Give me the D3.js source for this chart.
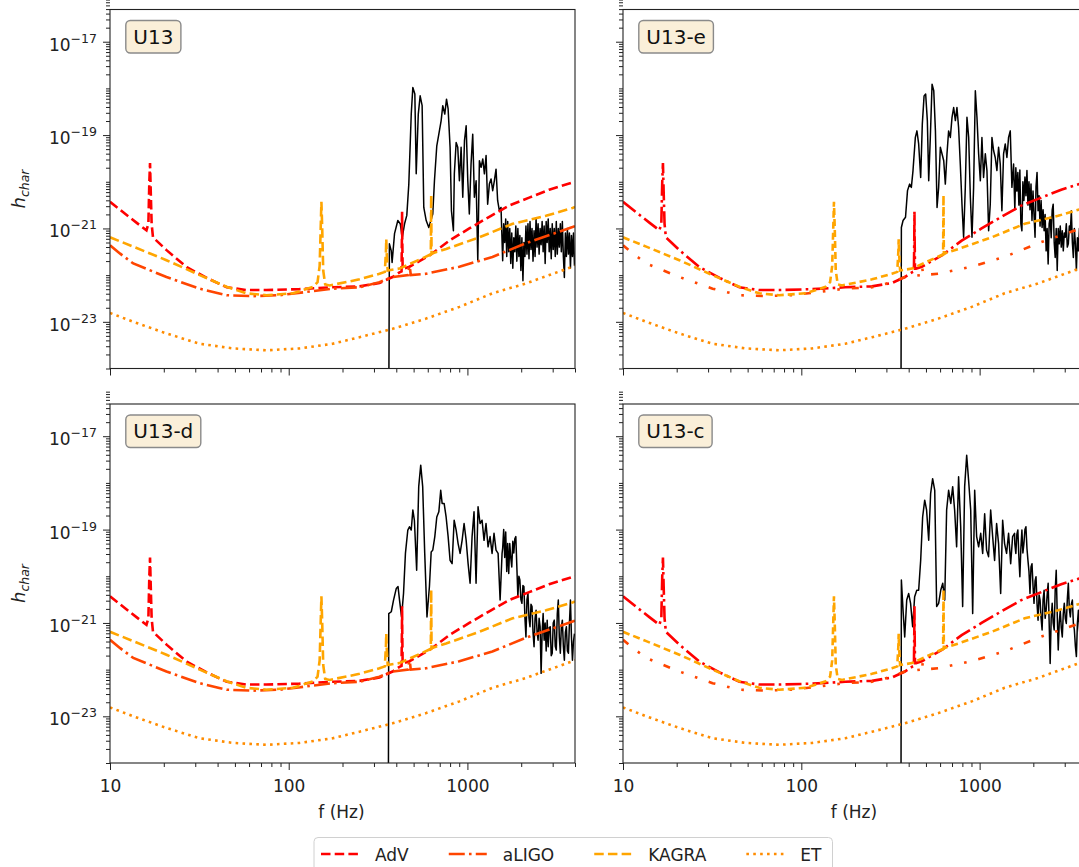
<!DOCTYPE html>
<html>
<head>
<meta charset="utf-8">
<script src="https://cdn.jsdelivr.net/npm/d3@7"></script>
<style>
body { margin: 0; background: #fff; }
svg { display: block; font-family: "DejaVu Sans", sans-serif; }
</style>
</head>
<body>
<div id="chart"></div>
<script>
"use strict";

// detector sensitivity curves: frequency (Hz) and log10(h_char)
var advFreq = [10, 12, 14, 16, 16.4, 16.6, 16.75, 16.9, 17.1, 17.4, 20.8, 26.9, 34.8, 45, 58, 75, 115, 176, 249, 322,
    381, 417, 428, 430, 431, 432, 434, 440, 474, 613, 793, 1025, 1326, 1714, 2217, 2867, 4000];
var advLogH = [-20.43, -20.67, -20.87, -21.04, -20.9, -20.0, -19.6, -20.2, -20.9, -21.19, -21.47, -21.83, -22.06, -22.26, -22.32, -22.32, -22.30, -22.26, -22.24, -22.17,
    -22.04, -21.94, -21.92, -21.2, -20.64, -21.2, -21.86, -21.86, -21.82, -21.58, -21.26, -21.00, -20.75, -20.51, -20.34, -20.17, -20.0];

var aligoFreq = [10, 11.4, 13.5, 20.7, 31.8, 44.9, 63.2, 89, 125.6, 176, 249, 322, 381, 466, 471, 474, 477, 482, 588, 902,
    1380, 2117, 3875, 4000];
var aligoLogH = [-21.36, -21.54, -21.75, -22.04, -22.29, -22.43, -22.45, -22.43, -22.36, -22.29, -22.26, -22.15, -22.04, -22.0, -21.85, -21.81, -21.85, -22.0, -21.97, -21.82,
    -21.61, -21.32, -20.97, -20.95];

var kagraFreq = [10, 13.5, 20.7, 31.8, 44.9, 58.1, 75.1, 105.7, 136.8, 145, 149, 151, 152.4, 154, 156, 160, 169.5, 249, 322, 345,
    350, 351.6, 353, 358, 417, 613, 624, 627, 630, 640, 760, 1167, 1791, 2752, 3875, 4000];
var kagraLogH = [-21.19, -21.39, -21.68, -22.00, -22.25, -22.39, -22.43, -22.39, -22.25, -22.15, -21.8, -21.0, -20.43, -21.0, -21.9, -22.2, -22.22, -22.09, -21.97, -21.93,
    -21.5, -21.23, -21.5, -21.9, -21.86, -21.57, -21.55, -20.29, -21.55, -21.53, -21.44, -21.19, -20.90, -20.73, -20.56, -20.54];

var etFreq = [10, 13.5, 20.7, 31.8, 48.9, 75.1, 115, 176.5, 249, 381, 588, 902, 1380, 2117, 3875, 4000];
var etLogH = [-22.81, -23.0, -23.25, -23.47, -23.57, -23.61, -23.57, -23.47, -23.33, -23.15, -22.93, -22.68, -22.39, -22.18, -21.82, -21.80];

// signal spectra below ~1.56 kHz: [f (Hz), log10(h_char)]
var u13Head = [[363, -25], [366, -21.33], [375, -21.48], [379, -21.73], [391, -21.11], [408, -20.83], [421, -20.90], [432, -21.19], [445, -20.90], [458, -20.72],
    [470, -20.05], [485, -18.55], [495, -17.98], [508, -18.12], [517, -19.83], [531, -18.55], [544, -18.16], [558, -18.37], [570, -20.55], [588, -20.83],
    [608, -20.98], [640, -20.69], [654, -19.98], [674, -19.23], [692, -18.98], [713, -18.69], [728, -18.37], [747, -18.55], [764, -18.23], [780, -18.44],
    [800, -19.26], [814, -20.62], [835, -21.05], [845, -19.83], [865, -19.16], [883, -19.26], [902, -19.98], [922, -19.26], [942, -20.33], [963, -19.12],
    [984, -18.80], [1005, -19.98], [1025, -20.69], [1048, -19.62], [1071, -18.98], [1094, -20.33], [1119, -19.98], [1143, -21.69], [1167, -19.55], [1193, -19.69],
    [1219, -19.51], [1245, -19.83], [1272, -19.44], [1298, -20.48], [1327, -20.05], [1356, -19.94], [1385, -20.19], [1415, -19.98], [1446, -19.73], [1476, -20.40],
    [1509, -20.62], [1542, -20.55]];

var u13eHead = [[362, -25], [364, -20.98], [372, -20.83], [384, -20.76], [394, -20.19], [405, -20.05], [414, -20.12], [423, -19.76], [436, -19.05], [445, -18.91],
    [455, -19.19], [467, -19.91], [477, -18.76], [488, -18.16], [498, -18.12], [509, -18.69], [518, -19.98], [529, -19.05], [541, -17.91], [553, -18.05],
    [565, -18.91], [577, -20.55], [589, -20.12], [602, -19.26], [615, -19.40], [629, -19.55], [642, -20.05], [656, -19.40], [670, -18.91], [685, -19.05],
    [700, -18.62], [715, -18.41], [731, -18.69], [746, -18.41], [762, -18.84], [779, -19.62], [796, -20.48], [813, -21.19], [831, -20.12], [849, -18.62],
    [868, -19.05], [887, -20.33], [906, -21.19], [925, -20.12], [946, -18.05], [966, -18.62], [987, -19.40], [1009, -19.98], [1030, -19.05], [1052, -19.91],
    [1076, -19.40], [1099, -19.76], [1123, -21.05], [1147, -20.48], [1172, -19.05], [1197, -19.33], [1223, -19.48], [1250, -19.76], [1277, -19.26], [1305, -19.62],
    [1333, -20.62], [1362, -19.40], [1392, -19.19], [1422, -19.48], [1453, -19.05], [1485, -18.91], [1517, -20.12], [1550, -19.62]];

var u13dHead = [[361, -25], [363, -20.80], [375, -20.76], [386, -20.51], [400, -20.26], [409, -20.22], [417, -20.51], [428, -20.87], [439, -20.37], [450, -19.51],
    [464, -19.01], [474, -18.94], [485, -19.01], [495, -18.58], [505, -18.80], [520, -19.87], [534, -18.08], [548, -17.62], [562, -18.08], [577, -19.51],
    [594, -20.87], [613, -20.22], [627, -19.48], [640, -19.44], [657, -19.15], [674, -18.73], [692, -18.62], [709, -18.16], [722, -18.44], [741, -18.44],
    [760, -18.73], [780, -19.15], [800, -19.66], [821, -19.73], [843, -18.80], [865, -19.01], [887, -19.30], [910, -19.51], [934, -19.23], [958, -18.87],
    [984, -19.23], [1009, -19.73], [1035, -20.15], [1062, -19.15], [1089, -18.62], [1118, -20.15], [1147, -18.51], [1177, -18.87], [1208, -18.80], [1239, -19.23],
    [1271, -18.87], [1305, -19.37], [1339, -19.15], [1374, -19.51], [1409, -19.08], [1446, -19.44], [1485, -19.51], [1524, -20.51], [1563, -19.51]];

var u13cHead = [[362, -25], [364, -20.08], [372, -20.73], [380, -21.30], [390, -20.51], [400, -20.37], [410, -20.58], [421, -21.08], [432, -20.44], [444, -20.30],
    [455, -20.30], [467, -19.66], [479, -18.73], [492, -18.37], [504, -18.58], [518, -19.23], [531, -18.23], [545, -17.91], [560, -18.16], [574, -20.65],
    [589, -20.58], [605, -20.30], [621, -20.15], [637, -20.51], [653, -18.58], [670, -18.16], [689, -18.44], [706, -18.08], [724, -18.58], [743, -19.37],
    [762, -17.87], [783, -18.94], [803, -20.65], [824, -18.08], [846, -17.41], [867, -17.94], [891, -18.58], [914, -20.80], [938, -18.16], [962, -19.15],
    [987, -19.37], [1014, -19.08], [1040, -19.51], [1067, -18.66], [1094, -19.44], [1122, -19.58], [1153, -18.58], [1183, -19.15], [1213, -19.66], [1245, -18.87],
    [1277, -19.30], [1312, -20.37], [1346, -18.80], [1380, -19.30], [1416, -19.51], [1453, -19.08], [1493, -19.73], [1531, -19.15], [1570, -19.08]];

// noisy high-frequency part, shared frequency grid (Hz)
var tailFreq = [1575, 1596, 1617, 1638, 1660, 1681, 1703, 1726, 1748, 1771, 1795, 1818, 1842, 1866, 1891, 1916, 1941, 1966, 1992, 2018,
    2045, 2071, 2099, 2126, 2154, 2182, 2211, 2240, 2269, 2299, 2329, 2360, 2391, 2422, 2454, 2486, 2519, 2552, 2585, 2619,
    2653, 2688, 2723, 2759, 2795, 2832, 2869, 2907, 2945, 2983, 3022, 3062, 3102, 3143, 3184, 3226, 3268, 3311, 3354, 3398,
    3443, 3488, 3534, 3580, 3627, 3675, 3723, 3772, 3821, 3871, 3922, 3973];
var u13Tail = [-21.69, -20.9, -21.3, -20.8, -21.6, -20.85, -21.5, -21.0, -21.75, -21.1, -21.85, -21.2, -21.5, -20.95, -21.7, -21.0, -21.6, -21.15, -21.9, -21.2,
    -22.12, -21.3, -21.6, -20.95, -21.55, -20.9, -21.65, -20.85, -21.45, -21.0, -21.7, -21.05, -21.6, -20.78, -21.4, -20.9, -21.55, -21.0, -21.35, -20.85,
    -21.5, -20.95, -21.75, -20.85, -21.3, -20.8, -21.5, -21.0, -21.65, -20.9, -21.45, -21.0, -21.6, -20.85, -21.55, -21.0, -21.4, -20.9, -21.5, -20.85,
    -21.6, -22.05, -21.1, -21.6, -21.0, -21.55, -21.1, -21.85, -21.15, -21.6, -21.1, -21.8];
var u13eTail = [-20.6, -19.7, -20.2, -19.8, -20.5, -19.75, -20.9, -21.05, -20.0, -20.4, -19.9, -20.3, -19.76, -20.5, -20.0, -20.6, -20.05, -20.83, -20.2, -20.7,
    -21.19, -20.1, -19.8, -20.62, -20.3, -20.95, -20.4, -20.98, -20.6, -21.05, -20.7, -21.48, -21.0, -21.76, -20.9, -20.76, -21.2, -20.6, -20.48, -21.3,
    -21.62, -21.0, -21.9, -21.0, -21.33, -20.95, -21.4, -21.05, -21.48, -21.1, -21.19, -20.9, -21.4, -21.33, -20.95, -21.05, -20.62, -21.3, -21.62, -21.0,
    -21.33, -21.9, -21.2, -21.48, -21.0, -21.6, -21.2, -21.7, -21.3, -21.6, -21.2, -21.5];
var u13dTail = [-19.4, -19.0, -19.6, -19.05, -19.9, -19.3, -19.94, -19.3, -19.6, -19.8, -19.25, -19.5, -19.2, -19.15, -19.8, -20.44, -20.0, -20.08, -20.5, -20.58,
    -20.2, -20.22, -20.9, -21.3, -20.5, -20.37, -20.9, -21.08, -20.6, -20.65, -21.2, -21.51, -20.9, -20.73, -21.2, -21.37, -20.9, -21.08, -22.08, -21.2,
    -20.8, -21.37, -21.0, -21.6, -20.94, -21.51, -21.1, -21.08, -21.7, -21.65, -21.0, -20.94, -21.5, -21.58, -20.8, -20.51, -21.3, -21.65, -21.1, -20.94,
    -21.5, -21.80, -21.2, -21.08, -21.6, -21.65, -21.0, -20.51, -21.3, -21.80, -21.4, -21.23];
var u13cTail = [-19.3, -19.51, -19.1, -19.01, -19.6, -20.01, -19.4, -19.01, -19.5, -19.30, -19.0, -18.94, -19.4, -19.66, -19.9, -20.37, -19.8, -19.73, -20.2, -20.58,
    -20.1, -20.01, -20.6, -20.94, -20.4, -20.51, -20.9, -21.15, -20.5, -20.30, -20.9, -20.73, -20.4, -20.15, -21.0, -21.87, -20.9, -20.58, -21.0, -21.15,
    -20.3, -19.87, -20.8, -21.58, -21.0, -20.73, -21.1, -21.30, -20.8, -20.58, -20.9, -21.01, -20.5, -20.15, -20.7, -20.87, -20.6, -20.51, -21.0, -21.15,
    -21.5, -21.72, -21.0, -20.73, -21.1, -21.4, -20.9, -21.1, -21.5, -21.2, -21.6, -21.3];

var panelLabels = ["U13", "U13-e", "U13-d", "U13-c"];
var xTickValues = [10, 100, 1000];
var yTickExponents = [-17, -19, -21, -23];
var legendLabels = ["AdV", "aLIGO", "KAGRA", "ET"];

var W = 1079, H = 867;
var colX = [110, 623], colW = [465, 464], rowY = [9.5, 404], plotH = 359;
var ink = "#222";

var svg = d3.select("#chart").append("svg")
    .attr("width", W)
    .attr("height", H);

// line styles differ between left and right columns
var detectors = [
    { freq: advFreq, logh: advLogH, color: "#ff0000", dash: ["9.5,4.2", "16,4.2,2.6,4.2"] },
    { freq: aligoFreq, logh: aligoLogH, color: "#ff4500", dash: ["16,4.2,2.6,4.2", "7,12,2.6,12,2.6,12"] },
    { freq: kagraFreq, logh: kagraLogH, color: "#ffa500", dash: ["9.5,4.2", "7,4"] },
    { freq: etFreq, logh: etLogH, color: "#ff8c00", dash: ["2.6,4.3", "2.6,4.3"] }
];

function joinTail(head, tail) {
    return head.concat(tailFreq.map(function (f, j) { return [f, tail[j]]; }));
}

var panels = [
    { signal: joinTail(u13Head, u13Tail), col: 0, row: 0 },
    { signal: joinTail(u13eHead, u13eTail), col: 1, row: 0 },
    { signal: joinTail(u13dHead, u13dTail), col: 0, row: 1 },
    { signal: joinTail(u13cHead, u13cTail), col: 1, row: 1 }
];

var xMinor = [];
[10, 100, 1000].forEach(function (d) {
    for (var m = 2; m <= 9; m++) if (m * d <= 4000) xMinor.push(m * d);
});
var yMinor = [];
for (var k = -24; k <= -17; k++) {
    for (var m = 1; m <= 9; m++) {
        if (m === 1 && yTickExponents.indexOf(k) >= 0) continue;
        yMinor.push(m * Math.pow(10, k));
    }
}

panels.forEach(function (p, i) {
    var x0 = colX[p.col], y0 = rowY[p.row], w = colW[p.col];
    var x = d3.scaleLog().domain([10, 4000]).range([0, w]);
    var y = d3.scaleLog().domain([1e-24, Math.pow(10, -16.31)]).range([plotH, 0]);

    var g = svg.append("g").attr("transform", "translate(" + x0 + "," + y0 + ")");

    g.append("clipPath").attr("id", "clip" + i)
        .append("rect").attr("width", w).attr("height", plotH);

    var plot = g.append("g").attr("clip-path", "url(#clip" + i + ")");

    var line = d3.line()
        .x(function (d) { return x(d[0]); })
        .y(function (d) { return y(Math.pow(10, d[1])); });

    plot.append("path")
        .datum(p.signal)
        .attr("d", line)
        .attr("fill", "none")
        .attr("stroke", "#000")
        .attr("stroke-width", 1.5)
        .attr("stroke-linejoin", "round");

    detectors.forEach(function (det) {
        var pts = det.freq.map(function (f, j) { return [f, det.logh[j]]; });
        plot.append("path")
            .datum(pts)
            .attr("d", line)
            .attr("fill", "none")
            .attr("stroke", det.color)
            .attr("stroke-width", 2.6)
            .attr("stroke-dasharray", det.dash[p.col]);
    });

    // axes
    var xAxis = g.append("g").attr("transform", "translate(0," + plotH + ")")
        .call(d3.axisBottom(x).tickValues(xTickValues).tickSizeInner(7).tickSizeOuter(0).tickPadding(5)
            .tickFormat(p.row === 1 ? d3.format("d") : function () { return ""; }));
    g.append("g").attr("transform", "translate(0," + plotH + ")")
        .call(d3.axisBottom(x).tickValues(xMinor).tickSizeInner(4).tickSizeOuter(0).tickFormat(""));

    var yAxis = g.append("g")
        .call(d3.axisLeft(y).tickValues(yTickExponents.map(function (e) { return Math.pow(10, e); }))
            .tickSizeInner(7).tickSizeOuter(0).tickFormat(""));
    g.append("g")
        .call(d3.axisLeft(y).tickValues(yMinor).tickSizeInner(4).tickSizeOuter(0).tickFormat(""));

    g.selectAll(".domain").remove();
    g.selectAll(".tick line").attr("stroke", ink).attr("stroke-width", 1);
    xAxis.selectAll("text").attr("font-size", 17).attr("fill", ink)
        .attr("font-family", "DejaVu Sans").attr("dy", null).attr("y", 28.5);

    if (p.col === 0) {
        yAxis.selectAll(".tick text").each(function (d, j) {
            var t = d3.select(this)
                .attr("x", -13).attr("dy", null).attr("y", 8.5)
                .attr("font-size", 17).attr("fill", ink).attr("font-family", "DejaVu Sans");
            t.append("tspan").text("10");
            t.append("tspan").attr("dy", -8).attr("font-size", 12.5).text("\u2212" + (-yTickExponents[j]));
        });

        g.append("text")
            .attr("transform", "translate(-85," + (plotH / 2) + ") rotate(-90)")
            .attr("text-anchor", "middle")
            .attr("font-size", 18)
            .attr("font-style", "italic")
            .attr("fill", ink)
            .call(function (t) {
                t.append("tspan").text("h");
                t.append("tspan").attr("dy", 4).attr("font-size", 12.5).text("char");
            });
    }

    if (p.row === 1) {
        g.append("text")
            .attr("x", w / 2 - 1)
            .attr("y", plotH + 54.7)
            .attr("text-anchor", "middle")
            .attr("font-size", 17)
            .attr("fill", ink)
            .text("f (Hz)");
    }

    g.append("rect")
        .attr("width", w).attr("height", plotH)
        .attr("fill", "none").attr("stroke", ink).attr("stroke-width", 1.1);

    // panel label in a rounded box
    var lab = g.append("g");
    var txt = lab.append("text")
        .attr("x", 23.3).attr("y", 34)
        .attr("font-size", 20).attr("fill", "#111")
        .text(panelLabels[i]);
    var bb = txt.node().getBBox();
    lab.insert("rect", "text")
        .attr("x", bb.x - 7.5).attr("y", bb.y + 0.5 - 4.5)
        .attr("width", bb.width + 15).attr("height", bb.height + 8.5)
        .attr("rx", 4.5)
        .attr("fill", "#faefd9")
        .attr("stroke", "#8a8a8a")
        .attr("stroke-width", 1.4);
});

// legend along the bottom, cut by the page edge
var legend = svg.append("g");
var legendBox = legend.append("rect")
    .attr("x", 314).attr("y", 837.5)
    .attr("height", 50).attr("rx", 4)
    .attr("fill", "#fff").attr("stroke", "#d0d0d0").attr("stroke-width", 1);
var lx = 321;
legendLabels.forEach(function (name, i) {
    var det = detectors[i];
    legend.append("line")
        .attr("x1", lx).attr("x2", lx + 38)
        .attr("y1", 854).attr("y2", 854)
        .attr("stroke", det.color)
        .attr("stroke-width", 2.6)
        .attr("stroke-dasharray", det.dash[0]);
    var t = legend.append("text")
        .attr("x", lx + 54).attr("y", 861)
        .attr("font-size", 17).attr("fill", ink)
        .text(name);
    lx += 54 + t.node().getComputedTextLength() + 40;
});
legendBox.attr("width", lx - 40 + 11 - 314);
</script>
</body>
</html>
